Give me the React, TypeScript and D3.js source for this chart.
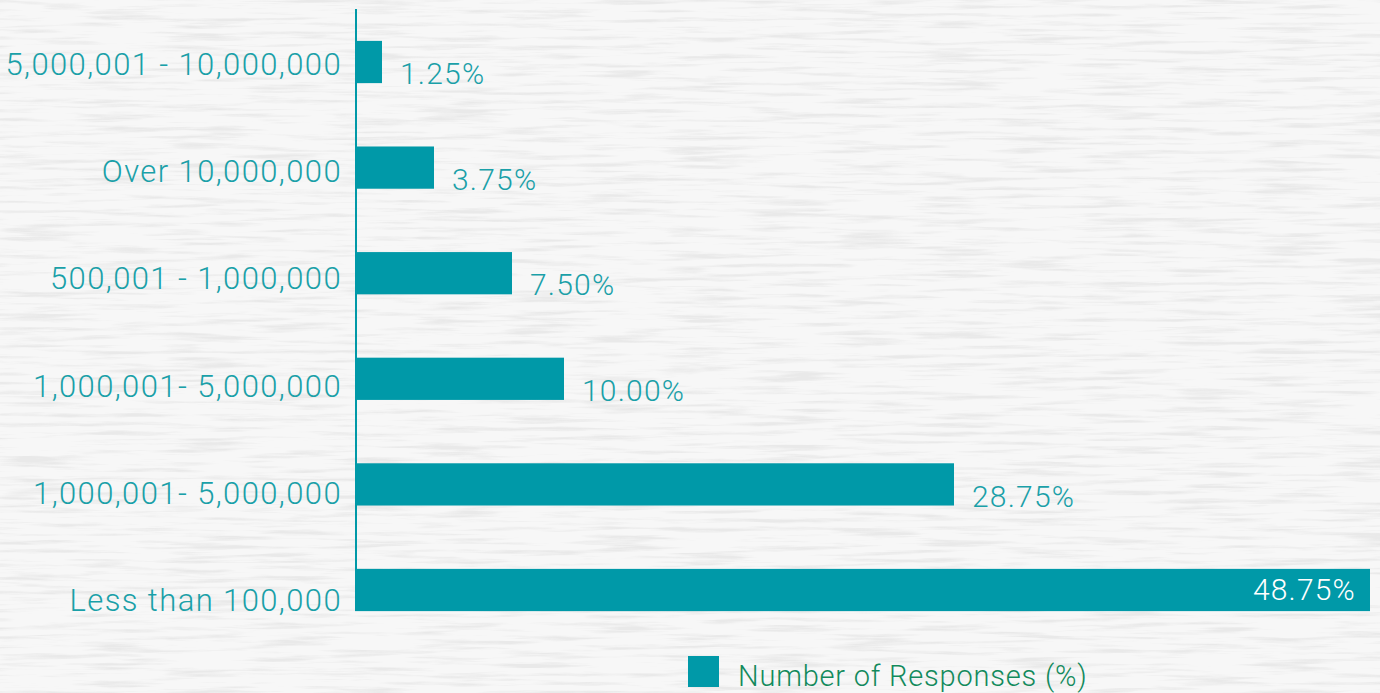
import React from "react";
import * as d3 from "d3";

const categories = [
  "5,000,001 - 10,000,000",
  "Over 10,000,000",
  "500,001 - 1,000,000",
  "1,000,001- 5,000,000",
  "1,000,001- 5,000,000 ",
  "Less than 100,000",
];
const values = [1.25, 3.75, 7.5, 10.0, 28.75, 48.75];
const valueLabels = ["1.25%", "3.75%", "7.50%", "10.00%", "28.75%", "48.75%"];
const seriesName = "Number of Responses (%)";

const W = 1380;
const H = 693;
const FONT = "'Roboto', 'Liberation Sans', sans-serif";
const BAR = "#0099a8";
const TEXT = "#1aa0a8";
const LEGEND_TEXT = "#128a5c";

export default function App() {
  const x = d3.scaleLinear().domain([0, 48.75]).range([356, 1370]);
  const y = d3
    .scaleBand<string>()
    .domain(categories)
    .range([9.2, 642.8])
    .paddingInner(0.6)
    .paddingOuter(0.3);
  const yLabel = d3.scalePoint<string>().domain(categories).range([75, 611]);
  const bw = y.bandwidth();
  const maxV = d3.max(values) as number;

  return (
    <svg
      width={W}
      height={H}
      style={{ position: "absolute", left: 0, top: 0, display: "block" }}
      fontFamily={FONT}
    >
      <defs>
        <filter id="paper" x="0" y="0" width="100%" height="100%">
          <feTurbulence type="fractalNoise" baseFrequency="0.012 0.22" numOctaves="4" seed="7" result="n" />
          <feColorMatrix
            in="n"
            type="matrix"
            values="0 0 0 0 0.5  0 0 0 0 0.5  0 0 0 0 0.5  0 0 0 -3.6 1.85"
          />
        </filter>
      </defs>
      <rect x={0} y={0} width={W} height={H} fill="#f7f7f7" />
      <rect x={0} y={0} width={W} height={H} filter="url(#paper)" opacity={0.22} />

      {/* axis line */}
      <line x1={x(0)} x2={x(0)} y1={9} y2={(y(categories[5]) as number) + bw} stroke={BAR} strokeWidth={2} />

      {categories.map((c, i) => {
        const y0 = y(c) as number;
        const inside = values[i] === maxV;
        return (
          <g key={i}>
            <rect x={x(0) - 1} y={y0} width={x(values[i]) - x(0) + 1} height={bw} fill={BAR} />
            <text
              x={342}
              y={yLabel(c) as number}
              textAnchor="end"
              fontSize={31}
              fontWeight={300}
              letterSpacing={1.4}
              fill={TEXT}
            >
              {c.trim()}
            </text>
            <text
              x={inside ? x(values[i]) - 14 : x(values[i]) + 18}
              y={inside ? y0 + bw / 2 + 10 : y0 + bw + 1}
              textAnchor={inside ? "end" : "start"}
              fontSize={30}
              fontWeight={300}
              letterSpacing={1.2}
              fill={inside ? "#ffffff" : TEXT}
            >
              {valueLabels[i]}
            </text>
          </g>
        );
      })}

      {/* legend */}
      <rect x={688} y={656} width={31} height={31} fill={BAR} />
      <text x={738} y={686} fontSize={29} fontWeight={300} letterSpacing={0.8} fill={LEGEND_TEXT}>
        {seriesName}
      </text>
    </svg>
  );
}
